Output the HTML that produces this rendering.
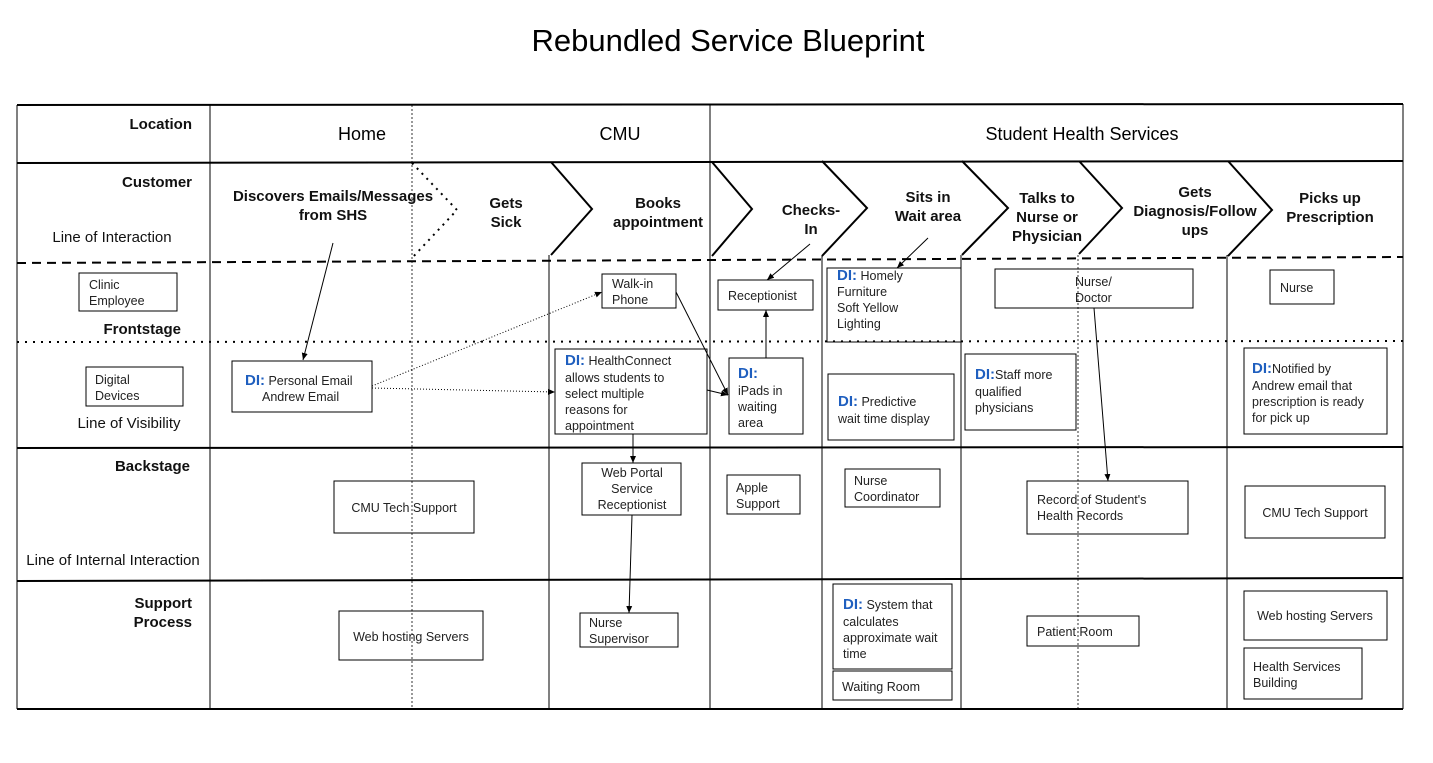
<!DOCTYPE html>
<html><head><meta charset="utf-8"><style>
html,body{margin:0;padding:0;background:#fff;}
svg{display:block;font-family:"Liberation Sans",Arial,sans-serif;}
.s{font-size:12.5px;fill:#222;}
.b{font-size:15px;font-weight:bold;fill:#111;}
.d{fill:#1f5fbf;font-weight:bold;font-size:15px;}
.l{font-size:15px;fill:#111;}
</style></head><body>
<svg width="1433" height="763" viewBox="0 0 1433 763">
<defs><marker id="a" markerWidth="8" markerHeight="8" refX="7" refY="4" orient="auto" markerUnits="userSpaceOnUse"><path d="M0,1 L7,4 L0,7 z" fill="#000"/></marker></defs>
<text x="728" y="51" text-anchor="middle" font-size="31" fill="#000">Rebundled Service Blueprint</text>
<g stroke="#000" fill="none">
<line x1="17" y1="105" x2="1403" y2="104" stroke-width="2"/>
<line x1="17" y1="163" x2="1403" y2="161" stroke-width="2"/>
<line x1="17" y1="263" x2="1403" y2="257" stroke-width="2" stroke-dasharray="9,6"/>
<line x1="17" y1="342" x2="1403" y2="341" stroke-width="2" stroke-dasharray="2,6"/>
<line x1="17" y1="448" x2="1403" y2="447" stroke-width="2"/>
<line x1="17" y1="581" x2="1403" y2="578" stroke-width="2"/>
<line x1="17" y1="709" x2="1403" y2="709" stroke-width="2"/>
<line x1="17" y1="105" x2="17" y2="709"/>
<line x1="1403" y1="104" x2="1403" y2="709"/>
<line x1="210" y1="105" x2="210" y2="709"/>
<line x1="710" y1="105" x2="710" y2="709"/>
<line x1="549" y1="255" x2="549" y2="709"/>
<line x1="822" y1="255" x2="822" y2="709"/>
<line x1="961" y1="255" x2="961" y2="709"/>
<line x1="1227" y1="255" x2="1227" y2="709"/>
<line x1="412" y1="105" x2="412" y2="709" stroke-width="0.8" stroke-dasharray="2,2"/>
<line x1="1078" y1="255" x2="1078" y2="709" stroke-width="0.8" stroke-dasharray="2,2"/>
<path d="M412,163 L457,210 L412,258" stroke-width="2" stroke-dasharray="2,5"/>
<path d="M551,162 L592,209 L551,255" stroke-width="2"/>
<path d="M712,162 L752,209 L712,256" stroke-width="2"/>
<path d="M822,161 L867,208 L822,256" stroke-width="2"/>
<path d="M962,161 L1008,208 L962,255" stroke-width="2"/>
<path d="M1079,161 L1122,208 L1079,254" stroke-width="2"/>
<path d="M1228,161 L1272,210 L1228,256" stroke-width="2"/>
<!-- boxes -->
<rect x="79" y="273" width="98" height="38"/>
<rect x="86" y="367" width="97" height="39"/>
<rect x="232" y="361" width="140" height="51"/>
<rect x="602" y="274" width="74" height="34"/>
<rect x="718" y="280" width="95" height="30"/>
<rect x="827" y="268" width="134" height="74"/>
<rect x="995" y="269" width="198" height="39"/>
<rect x="1270" y="270" width="64" height="34"/>
<rect x="555" y="349" width="152" height="85"/>
<rect x="729" y="358" width="74" height="76"/>
<rect x="828" y="374" width="126" height="66"/>
<rect x="965" y="354" width="111" height="76"/>
<rect x="1244" y="348" width="143" height="86"/>
<rect x="334" y="481" width="140" height="52"/>
<rect x="582" y="463" width="99" height="52"/>
<rect x="727" y="475" width="73" height="39"/>
<rect x="845" y="469" width="95" height="38"/>
<rect x="1027" y="481" width="161" height="53"/>
<rect x="1245" y="486" width="140" height="52"/>
<rect x="339" y="611" width="144" height="49"/>
<rect x="580" y="613" width="98" height="34"/>
<rect x="833" y="584" width="119" height="85"/>
<rect x="833" y="671" width="119" height="29"/>
<rect x="1027" y="616" width="112" height="30"/>
<rect x="1244" y="591" width="143" height="49"/>
<rect x="1244" y="648" width="118" height="51"/>
</g>
<!-- connectors -->
<g stroke="#000" fill="none" stroke-width="1">
<line x1="333" y1="243" x2="303" y2="360" marker-end="url(#a)"/>
<line x1="372" y1="386" x2="602" y2="292" stroke-dasharray="1,2" marker-end="url(#a)"/>
<line x1="372" y1="388" x2="555" y2="392" stroke-dasharray="1,2" marker-end="url(#a)"/>
<line x1="676" y1="292" x2="728" y2="395" marker-end="url(#a)"/>
<line x1="707" y1="390" x2="728" y2="395" marker-end="url(#a)"/>
<line x1="810" y1="244" x2="767" y2="280" marker-end="url(#a)"/>
<line x1="766" y1="358" x2="766" y2="310" marker-end="url(#a)"/>
<line x1="928" y1="238" x2="897" y2="268" marker-end="url(#a)"/>
<line x1="1094" y1="308" x2="1108" y2="481" marker-end="url(#a)"/>
<line x1="633" y1="434" x2="633" y2="463" marker-end="url(#a)"/>
<line x1="632" y1="515" x2="629" y2="613" marker-end="url(#a)"/>
</g>
<!-- left labels -->
<text x="192" y="129" text-anchor="end" class="b">Location</text>
<text x="192" y="187" text-anchor="end" class="b">Customer</text>
<text x="112" y="242" text-anchor="middle" class="l">Line of Interaction</text>
<text x="181" y="334" text-anchor="end" class="b">Frontstage</text>
<text x="129" y="428" text-anchor="middle" class="l">Line of Visibility</text>
<text x="190" y="471" text-anchor="end" class="b">Backstage</text>
<text x="113" y="565" text-anchor="middle" class="l">Line of Internal Interaction</text>
<text x="192" y="608" text-anchor="end" class="b">Support</text>
<text x="192" y="627" text-anchor="end" class="b">Process</text>
<text x="362" y="140" text-anchor="middle" font-size="18">Home</text>
<text x="620" y="140" text-anchor="middle" font-size="18">CMU</text>
<text x="1082" y="140" text-anchor="middle" font-size="18">Student Health Services</text>
<!-- customer steps -->
<g class="b" text-anchor="middle">
<text x="333" y="201">Discovers Emails/Messages</text><text x="333" y="220">from SHS</text>
<text x="506" y="208">Gets</text><text x="506" y="227">Sick</text>
<text x="658" y="208">Books</text><text x="658" y="227">appointment</text>
<text x="811" y="215">Checks-</text><text x="811" y="234">In</text>
<text x="928" y="202">Sits in</text><text x="928" y="221">Wait area</text>
<text x="1047" y="203">Talks to</text><text x="1047" y="222">Nurse or</text><text x="1047" y="241">Physician</text>
<text x="1195" y="197">Gets</text><text x="1195" y="216">Diagnosis/Follow</text><text x="1195" y="235">ups</text>
<text x="1330" y="203">Picks up</text><text x="1330" y="222">Prescription</text>
</g>
<!-- box texts -->
<g class="s">
<text x="89" y="289">Clinic</text><text x="89" y="305">Employee</text>
<text x="95" y="384">Digital</text><text x="95" y="400">Devices</text>
<text x="245" y="385"><tspan class="d">DI:</tspan> Personal Email</text><text x="262" y="401">Andrew Email</text>
<text x="612" y="288">Walk-in</text><text x="612" y="304">Phone</text>
<text x="728" y="300">Receptionist</text>
<text x="837" y="280"><tspan class="d">DI:</tspan> Homely</text><text x="837" y="296">Furniture</text><text x="837" y="312">Soft Yellow</text><text x="837" y="328">Lighting</text>
<text x="1075" y="286">Nurse/</text><text x="1075" y="302">Doctor</text>
<text x="1280" y="292">Nurse</text>
<text x="565" y="365"><tspan class="d">DI:</tspan> HealthConnect</text><text x="565" y="382">allows students to</text><text x="565" y="398">select multiple</text><text x="565" y="414">reasons for</text><text x="565" y="430">appointment</text>
<text x="738" y="378" class="d">DI:</text><text x="738" y="395">iPads in</text><text x="738" y="411">waiting</text><text x="738" y="427">area</text>
<text x="838" y="406"><tspan class="d">DI:</tspan> Predictive</text><text x="838" y="423">wait time display</text>
<text x="975" y="379"><tspan class="d">DI:</tspan>Staff more</text><text x="975" y="396">qualified</text><text x="975" y="412">physicians</text>
<text x="1252" y="373"><tspan class="d">DI:</tspan>Notified by</text><text x="1252" y="390">Andrew email that</text><text x="1252" y="406">prescription is ready</text><text x="1252" y="422">for pick up</text>
<text x="404" y="512" text-anchor="middle">CMU Tech Support</text>
<text x="632" y="477" text-anchor="middle">Web Portal</text><text x="632" y="493" text-anchor="middle">Service</text><text x="632" y="509" text-anchor="middle">Receptionist</text>
<text x="736" y="492">Apple</text><text x="736" y="508">Support</text>
<text x="854" y="485">Nurse</text><text x="854" y="501">Coordinator</text>
<text x="1037" y="504">Record of Student's</text><text x="1037" y="520">Health Records</text>
<text x="1315" y="517" text-anchor="middle">CMU Tech Support</text>
<text x="411" y="641" text-anchor="middle">Web hosting Servers</text>
<text x="589" y="627">Nurse</text><text x="589" y="643">Supervisor</text>
<text x="843" y="609"><tspan class="d">DI:</tspan> System that</text><text x="843" y="626">calculates</text><text x="843" y="642">approximate wait</text><text x="843" y="658">time</text>
<text x="842" y="691">Waiting Room</text>
<text x="1037" y="636">Patient Room</text>
<text x="1315" y="620" text-anchor="middle">Web hosting Servers</text>
<text x="1253" y="671">Health Services</text><text x="1253" y="687">Building</text>
</g>
</svg>
</body></html>
